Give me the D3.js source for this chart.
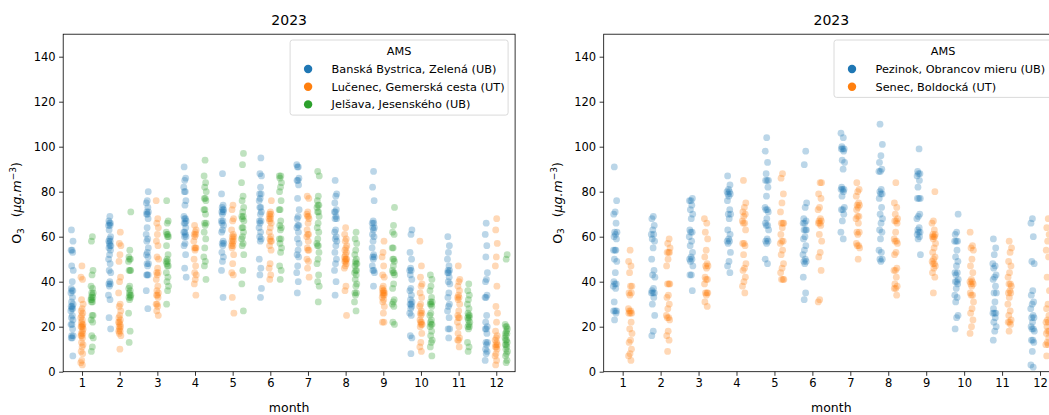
<!DOCTYPE html>
<html lang="sk">
<head>
<meta charset="UTF-8">
<title>O3 2023</title>
<script src="https://cdn.jsdelivr.net/npm/d3@7/dist/d3.min.js"></script>
<style>
  body { margin: 0; background: #fff; }
  text { font-family: "DejaVu Sans", sans-serif; fill: #000; }
</style>
</head>
<body>
<script>
const months = [1, 2, 3, 4, 5, 6, 7, 8, 9, 10, 11, 12];
const yTicks = [0, 20, 40, 60, 80, 100, 120, 140];
const year = "2023";

// left panel stations
const namesLeft = ["Banská Bystrica, Zelená (UB)", "Lučenec, Gemerská cesta (UT)", "Jelšava, Jesenského (UB)"];
const bbO3 = [
  [63,58,54,54,53,47,45,40,37,36,36,35,33,31,30,29,29,28,28,27,25,24,23,21,21,19,16,16,15,15,7],
  [69,67,66,66,65,65,63,60,59,58,58,57,56,56,55,54,52,50,48,45,44,40,39,39,38,34,32,24,19],
  [80,76,75,73,71,71,70,70,68,64,61,59,58,55,53,52,51,48,48,47,43,43,43,36,28],
  [91,86,85,82,80,80,76,74,69,68,68,67,66,66,64,62,62,61,60,60,57,56,52,46,42],
  [88,79,74,73,72,72,71,71,70,67,67,66,65,63,62,58,57,57,56,53,51,49,45,33],
  [95,88,87,82,79,79,77,76,73,73,71,70,67,67,66,64,62,60,59,58,50,46,43,37,33],
  [92,91,91,86,85,85,83,77,72,69,68,65,65,64,62,59,57,54,52,51,47,44,40,35],
  [85,79,78,75,72,71,71,69,68,68,63,62,60,59,58,56,53,50,48,45,40,34],
  [89,82,76,67,66,66,64,64,63,61,60,58,55,52,51,51,50,47,45,45,44,38],
  [63,61,53,50,46,45,45,43,41,37,36,34,32,31,30,30,29,28,26,25,16,15,8],
  [60,56,53,50,47,45,45,44,44,42,40,39,35,33,30,29,27,24,19,19,15],
  [66,61,56,51,44,41,40,34,33,33,25,22,20,19,19,17,13,13,12,10,9,8,5]
];
const lcO3 = [
  [47,42,41,32,30,28,27,26,25,24,23,22,21,21,20,20,20,19,18,17,17,16,16,15,13,12,11,9,8,5,4,3],
  [62,57,56,52,49,42,40,35,30,29,27,25,24,23,22,22,21,20,20,19,18,18,17,16,10],
  [76,68,66,64,61,58,56,51,50,46,44,44,43,41,38,36,35,34,34,33,30,30,29,27,25],
  [65,63,62,61,61,60,58,55,55,55,54,50,47,44,43,41,39,34],
  [74,72,68,67,63,61,60,60,59,58,58,57,56,56,55,52,48,44,43,33,26],
  [76,71,70,70,69,68,68,67,66,64,62,60,59,58,58,56,54,48,46,43,41],
  [78,77,71,70,69,69,68,66,63,61,61,60,58,55,54,54,50,49,46,42],
  [64,61,59,58,56,55,54,53,52,51,50,50,50,49,49,48,47,46,38,36,25],
  [58,53,51,47,43,42,38,37,36,36,35,35,35,34,34,33,32,31,29,26,22,22],
  [58,47,42,39,38,35,33,30,29,27,26,26,25,23,22,22,21,21,20,17,13,11,9],
  [47,41,40,38,36,34,33,33,32,30,27,25,24,24,22,20,17,15,14,14,11],
  [68,63,57,51,47,38,29,26,22,18,16,15,14,13,12,12,11,11,10,8,7,5,3]
];
const jsO3 = [
  [60,58,45,43,38,37,35,35,34,33,33,32,32,31,31,25,25,23,22,16,15,11,9],
  [71,54,51,50,50,49,45,45,45,38,37,36,35,34,34,33,33,32,26,18,13],
  [76,67,66,62,61,61,60,60,56,52,50,49,49,48,47,47,44,42,40,38,36,30],
  [94,87,84,82,80,77,77,76,72,72,70,66,66,65,62,59,55,51,49,47,41],
  [97,92,84,78,76,73,71,69,69,68,67,64,64,62,60,59,57,56,52,45,39,27],
  [87,87,86,84,82,80,76,72,72,67,65,64,63,59,59,57,55,53,47,45,41],
  [89,87,78,76,74,74,73,71,71,69,66,64,62,59,57,56,56,53,50,48,43,40,38,31],
  [62,59,57,54,52,50,49,48,48,47,45,45,44,43,41,39,38,35,35,34,31,27],
  [73,65,62,61,55,55,50,50,49,47,45,44,44,43,39,37,32,31,30,29,22,21],
  [43,41,38,36,33,31,31,30,30,29,26,25,23,22,21,21,20,18,16,14,13,11,7],
  [39,36,34,32,30,28,26,25,25,24,24,23,22,21,20,20,19,13,11,9],
  [52,50,21,20,20,19,18,17,17,16,15,14,14,13,12,12,11,10,9,8,7,5,4]
];

// right panel stations
const namesRight = ["Pezinok, Obrancov mieru (UB)", "Senec, Boldocká (UT)"];
const pzO3 = [
  [91,76,71,70,66,62,62,61,60,59,54,54,54,50,49,44,40,39,39,38,37,31,27,27,27,26,23],
  [69,68,65,63,61,61,59,58,55,50,45,43,42,37,36,35,35,35,33,30,25,18,16],
  [77,76,76,74,72,70,68,63,62,62,60,58,56,53,51,50,50,49,47,43,43,36],
  [87,83,81,80,80,79,79,78,76,72,70,70,68,63,61,59,58,58,57,53,49,47,44],
  [104,98,93,88,85,85,85,82,78,73,72,72,71,68,66,65,65,63,59,58,58,57,50,48],
  [98,92,75,73,68,67,66,66,63,63,63,60,59,56,54,52,50,49,49,48,42,35,32],
  [106,104,100,99,99,99,98,94,93,90,82,81,81,81,80,78,73,72,72,70,67,62,59],
  [110,101,96,93,90,89,89,81,80,79,79,77,73,70,68,66,63,62,59,54,53,50,50,49],
  [99,89,88,88,87,85,82,77,77,77,70,69,68,64,63,62,62,61,60,59,52],
  [70,62,61,58,58,58,54,51,49,47,44,44,43,41,40,40,39,37,34,33,31,25,24,19],
  [59,55,52,48,47,46,43,42,41,38,35,35,31,28,26,26,26,24,22,20,18,14],
  [68,66,60,49,48,36,34,31,30,28,25,24,24,22,20,19,19,18,14,14,13,9,3,2]
];
const snO3 = [
  [54,49,47,44,38,38,35,35,34,28,27,27,26,26,26,22,19,17,14,13,10,8,7,5],
  [59,57,55,53,53,53,50,47,39,39,39,34,33,30,28,25,24,24,23,18,16,14,9],
  [68,66,62,59,54,51,48,47,47,46,42,41,41,39,35,35,35,34,31,29],
  [85,75,73,71,70,69,67,66,66,63,57,57,56,52,48,46,45,42,40,38,35],
  [88,86,79,75,71,66,66,66,64,61,58,58,57,54,52,48,46,44,41,41,41],
  [84,84,79,77,73,72,68,67,67,66,66,65,61,58,53,51,45,32,31],
  [84,81,80,78,75,74,74,73,72,69,69,68,66,62,62,61,57,56,56,55,50],
  [84,75,73,70,68,67,67,66,62,59,58,58,57,53,52,46,45,45,42,39,38,37,37,34],
  [80,67,66,63,61,61,60,60,60,59,57,55,53,51,50,49,48,48,47,46,44,42,35],
  [62,56,55,54,50,47,44,41,40,40,39,39,38,35,34,34,31,28,26,23,20,17],
  [58,55,53,49,47,44,42,39,39,38,36,35,35,33,30,27,25,23,22,22,21,18],
  [68,64,61,58,54,51,42,36,30,28,25,23,22,22,20,18,18,17,15,13,12,12,7]
];

const palette = ["#1f77b4", "#ff7f0e", "#2ca02c"];

const svg = d3.select("body").append("svg")
  .attr("width", 1049)
  .attr("height", 415);

function drawPanel(p) {
  const x = d3.scalePoint().domain(months).range([p.left, p.right]).padding(0.5);
  const y = d3.scaleLinear().domain([0, 150]).range([371.7, 34.2]);
  const step = x.step();
  const n = p.series.length;
  const w = 0.8 / n;
  const jl = 0.1 / n * step;

  const g = svg.append("g");

  // points
  p.series.forEach((s, k) => {
    const pts = [];
    s.forEach((vals, mi) => vals.forEach((v, i) => pts.push({ m: months[mi], v: v, i: i, k: k })));
    g.append("g").selectAll("circle")
      .data(pts)
      .join("circle")
      .attr("cx", d => {
        const j = ((d.i * 0.618034 + d.m * 0.291 + k * 0.17) % 1) * 2 - 1;
        return x(d.m) + (-0.4 + w * (k + 0.5)) * step + j * jl;
      })
      .attr("cy", d => y(d.v))
      .attr("r", 3.4)
      .attr("fill", palette[k])
      .attr("fill-opacity", 0.3);
  });

  // axes
  const xAxis = g.append("g")
    .attr("transform", "translate(0,371.7)")
    .call(d3.axisBottom(x).tickSize(4.1).tickPadding(3.5));
  const yAxis = g.append("g")
    .attr("transform", `translate(${p.left},0)`)
    .call(d3.axisLeft(y).tickValues(yTicks).tickSize(4.1).tickPadding(3.5));
  [xAxis, yAxis].forEach(a => {
    a.select(".domain").remove();
    a.selectAll("line").attr("stroke", "#000").attr("stroke-width", 0.8);
    a.selectAll("text").style("font-family", "DejaVu Sans").attr("font-size", 11.5).attr("fill", "#000");
  });

  g.append("rect")
    .attr("x", p.left).attr("y", 34.2)
    .attr("width", p.right - p.left).attr("height", 371.7 - 34.2)
    .attr("fill", "none").attr("stroke", "#000").attr("stroke-width", 0.8);

  // title & labels
  const cx = (p.left + p.right) / 2;
  g.append("text").attr("x", cx).attr("y", 25).attr("text-anchor", "middle")
    .attr("font-size", 14).text(year);
  g.append("text").attr("x", cx).attr("y", 412).attr("text-anchor", "middle")
    .attr("font-size", 12.5).text("month");

  const yl = g.append("text")
    .attr("transform", `translate(${p.left - 42},203) rotate(-90)`)
    .attr("text-anchor", "middle")
    .attr("font-size", 12.5);
  yl.append("tspan").text("O");
  yl.append("tspan").attr("font-size", 9).attr("dy", 2.5).text("3");
  yl.append("tspan").attr("dy", -2.5).attr("dx", 11).text("(");
  yl.append("tspan").attr("font-style", "italic").text("μg.m");
  yl.append("tspan").attr("font-size", 9).attr("dy", -5).text("−3");
  yl.append("tspan").attr("dy", 5).text(")");

  // legend
  const lw = 218, lh = 22 + n * 17.7;
  const lx = p.right - 7 - lw, ly = 40;
  const lg = g.append("g").attr("transform", `translate(${lx},${ly})`);
  lg.append("rect").attr("width", lw).attr("height", lh).attr("rx", 2.5)
    .attr("fill", "#fff").attr("fill-opacity", 0.8)
    .attr("stroke", "#d6d6d6").attr("stroke-width", 0.9);
  lg.append("text").attr("x", lw / 2).attr("y", 14.5).attr("text-anchor", "middle")
    .attr("font-size", 11.3).text("AMS");
  p.names.forEach((name, k) => {
    const yy = 29 + k * 17.7;
    lg.append("circle").attr("cx", 18).attr("cy", yy).attr("r", 4.2).attr("fill", palette[k]);
    lg.append("text").attr("x", 41.5).attr("y", yy + 4).attr("font-size", 11.3).text(name);
  });
}

drawPanel({ left: 63.2, right: 515.1, series: [bbO3, lcO3, jsO3], names: namesLeft });
drawPanel({ left: 603.7, right: 1059, series: [pzO3, snO3], names: namesRight });
</script>
</body>
</html>
